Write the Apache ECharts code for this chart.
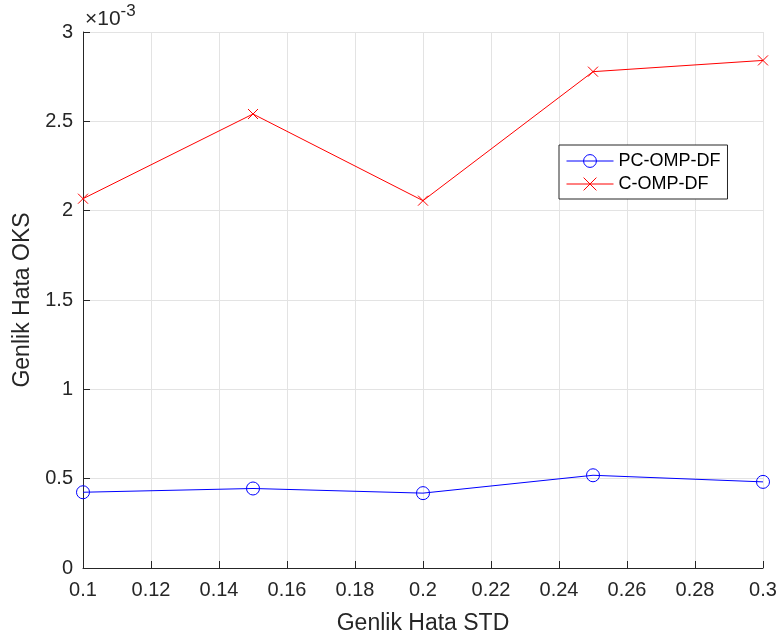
<!DOCTYPE html>
<html>
<head>
<meta charset="utf-8">
<script src="https://cdn.jsdelivr.net/npm/echarts@6/dist/echarts.min.js"></script>
<style>
  html, body { margin: 0; padding: 0; background: #fff; }
  #chart { width: 781px; height: 641px; }
</style>
</head>
<body>
<div id="chart"></div>
<script>
// Amplitude error standard deviation (x) and resulting RMS error (y)
const stdValues = [0.10, 0.15, 0.20, 0.25, 0.30];
const pcOmpDf = [0.000424, 0.000445, 0.000419, 0.000519, 0.000482];
const cOmpDf = [0.002067, 0.002541, 0.002056, 0.002778, 0.002841];
const seriesNames = ['PC-OMP-DF', 'C-OMP-DF'];
const xTitle = 'Genlik Hata STD';
const yTitle = 'Genlik Hata OKS';

const FONT = '"Liberation Sans", Arial, Helvetica, sans-serif';
const INK = '#262626';
const GRID = '#e3e3e3';

const chart = echarts.init(document.getElementById('chart'), null, { renderer: 'canvas' });

const pairs = (xs, ys) => xs.map((x, i) => [x, ys[i]]);

chart.setOption({
  animation: false,
  backgroundColor: '#ffffff',
  textStyle: { fontFamily: FONT },
  grid: { left: 83, top: 32, right: 18, bottom: 73, containLabel: false },
  xAxis: {
    type: 'value',
    min: 0.1, max: 0.3, interval: 0.02,
    name: xTitle, nameLocation: 'middle', nameGap: 44,
    nameTextStyle: { fontSize: 23, color: INK, fontFamily: FONT },
    axisLine: { show: true, lineStyle: { color: INK, width: 1 } },
    axisTick: { show: true, inside: true, length: 7, lineStyle: { color: INK } },
    axisLabel: {
      fontSize: 20, color: INK, margin: 12, fontFamily: FONT,
      formatter: v => String(+v.toFixed(2))
    },
    splitLine: { show: true, lineStyle: { color: GRID, width: 1 } }
  },
  yAxis: {
    type: 'value',
    min: 0, max: 0.003, interval: 0.0005,
    name: yTitle, nameLocation: 'middle', nameGap: 41, nameRotate: 90,
    nameTextStyle: { fontSize: 23, color: INK, fontFamily: FONT },
    axisLine: { show: true, lineStyle: { color: INK, width: 1 } },
    axisTick: { show: true, inside: true, length: 7, lineStyle: { color: INK } },
    axisLabel: {
      fontSize: 20, color: INK, margin: 10, fontFamily: FONT,
      formatter: v => String(+(v * 1000).toFixed(1))
    },
    splitLine: { show: true, lineStyle: { color: GRID, width: 1 } }
  },
  legend: {
    left: 559, top: 145,
    orient: 'vertical',
    backgroundColor: '#ffffff',
    borderColor: INK, borderWidth: 1,
    padding: [7, 7, 6, 7],
    itemGap: 5,
    itemWidth: 47, itemHeight: 16,
    lineStyle: { width: 1 },
    itemStyle: { borderWidth: 1 },
    textStyle: { fontSize: 18, color: '#000', fontFamily: FONT },
    data: seriesNames
  },
  graphic: [{
    type: 'text',
    left: 85, top: 3,
    style: {
      text: '{m|×10}{s|-3}',
      rich: {
        m: { fontSize: 21, fill: INK, fontFamily: FONT, verticalAlign: 'bottom', lineHeight: 27 },
        s: { fontSize: 17, fill: INK, fontFamily: FONT, verticalAlign: 'top', lineHeight: 27 }
      }
    }
  }],
  series: [
    {
      name: seriesNames[0],
      type: 'line',
      data: pairs(stdValues, pcOmpDf),
      symbol: 'circle',
      symbolSize: 13,
      showAllSymbol: true,
      lineStyle: { color: '#0000ff', width: 1 },
      itemStyle: { color: 'rgba(255,255,255,0)', borderColor: '#0000ff', borderWidth: 1 },
      z: 3
    },
    {
      name: seriesNames[1],
      type: 'line',
      data: pairs(stdValues, cOmpDf),
      symbol: 'path://M0,0L10,10M10,0L0,10',
      symbolSize: 10,
      showAllSymbol: true,
      lineStyle: { color: '#ff0000', width: 1 },
      itemStyle: { color: '#ff0000', borderColor: '#ff0000', borderWidth: 1 },
      z: 3
    }
  ]
});
</script>
</body>
</html>
